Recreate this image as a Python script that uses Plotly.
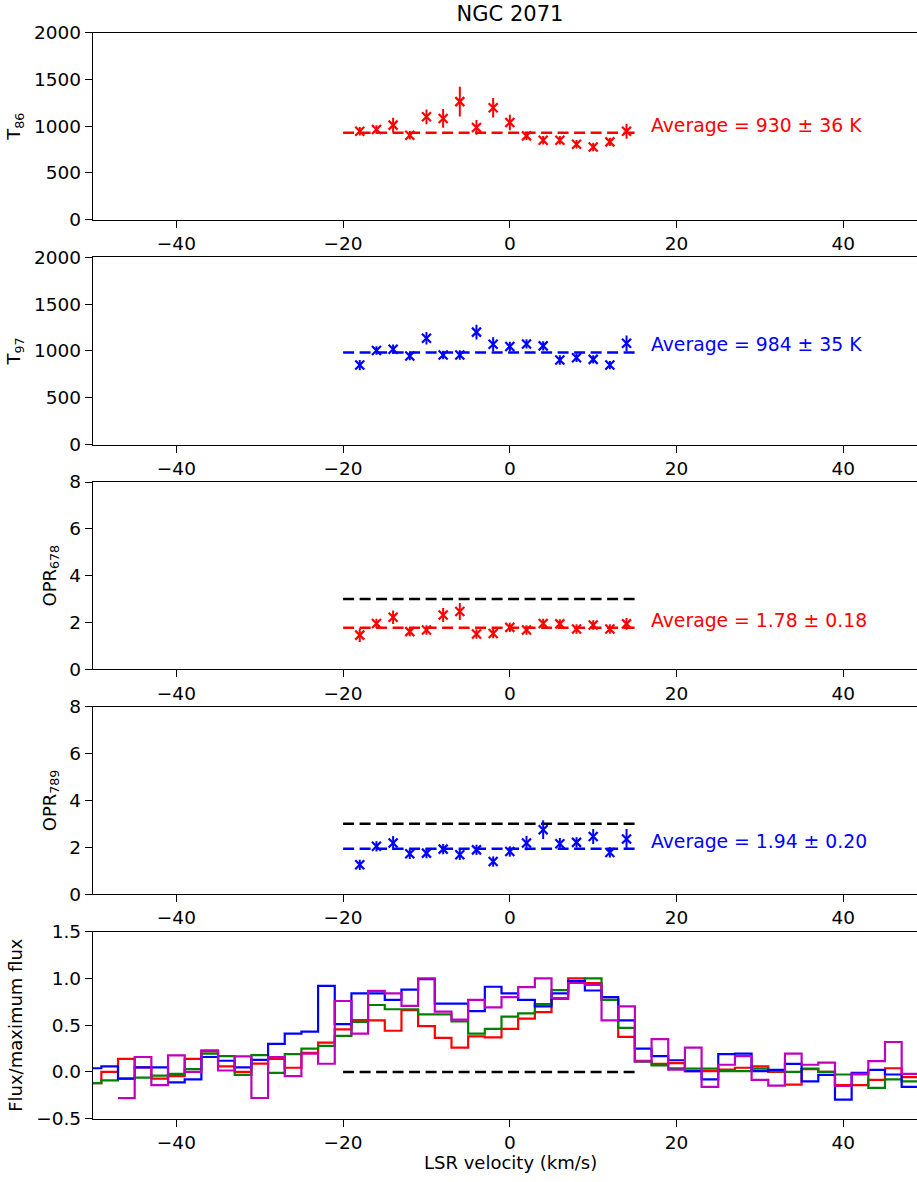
import plotly.graph_objects as go

# ---------------- data ----------------
vel_pts = [-18, -16, -14, -12, -10, -8, -6, -4, -2, 0, 2, 4, 6, 8, 10, 12, 14]

t86 = [946, 964, 1011, 903, 1100, 1082, 1262, 986, 1197, 1039, 896, 849, 849, 806, 778, 832, 946]
t86_err = [45, 45, 80, 45, 79, 100, 160, 79, 104, 84, 45, 45, 45, 45, 45, 45, 80]

t97 = [849, 1004, 1018, 946, 1136, 957, 957, 1201, 1072, 1047, 1075, 1054, 903, 928, 910, 849, 1082]
t97_err = [55, 45, 50, 45, 66, 45, 50, 80, 75, 50, 50, 50, 50, 45, 45, 45, 84]

opr678 = [1.46, 1.96, 2.22, 1.61, 1.68, 2.32, 2.47, 1.51, 1.53, 1.79, 1.68, 1.96, 1.94, 1.72, 1.89, 1.72, 1.94]
opr678_err = [0.29, 0.2, 0.29, 0.2, 0.2, 0.3, 0.36, 0.2, 0.2, 0.2, 0.2, 0.2, 0.2, 0.2, 0.2, 0.2, 0.25]

opr789 = [1.25, 2.04, 2.18, 1.72, 1.75, 1.92, 1.68, 1.89, 1.39, 1.82, 2.18, 2.75, 2.15, 2.21, 2.46, 1.78, 2.35]
opr789_err = [0.22, 0.22, 0.3, 0.22, 0.22, 0.22, 0.22, 0.22, 0.22, 0.22, 0.31, 0.4, 0.25, 0.22, 0.32, 0.22, 0.43]

avg_t86, avg_t86_txt = 930, "Average = 930 ± 36 K"
avg_t97, avg_t97_txt = 984, "Average = 984 ± 35 K"
avg_o678, avg_o678_txt = 1.78, "Average = 1.78 ± 0.18"
avg_o789, avg_o789_txt = 1.94, "Average = 1.94 ± 0.20"
avg_range = [-20, 15]
lte_opr = 3.0

chan = list(range(-50, 50, 2))  # channel centres, km/s
flux_red = [-0.12, 0.0, 0.14, 0.05, -0.07, -0.045, 0.14, 0.22, 0.06, 0.0,
            0.09, 0.14, 0.045, 0.205, 0.314, 0.454, 0.554, 0.55, 0.44, 0.66,
            0.49, 0.365, 0.26, 0.38, 0.37, 0.46, 0.57, 0.64, 0.78, 1.0,
            0.95, 0.77, 0.375, 0.12, 0.087, 0.095, 0.01, 0.01, 0.026, 0.045,
            0.059, 0.0, -0.135, 0.03, 0.0, -0.14, -0.14, -0.085, 0.04, -0.055]
flux_green = [-0.12, -0.09, -0.07, -0.06, -0.04, -0.02, 0.03, 0.195, 0.17, -0.03,
              0.18, -0.01, 0.19, 0.25, 0.278, 0.385, 0.536, 0.715, 0.67, 0.67,
              0.615, 0.615, 0.54, 0.41, 0.46, 0.59, 0.625, 0.725, 0.875, 0.96,
              1.0, 0.77, 0.47, 0.11, 0.07, 0.04, 0.035, 0.035, 0.01, 0.01,
              0.035, 0.01, 0.0, 0.035, 0.0, -0.027, -0.027, -0.17, -0.08, -0.1]
flux_blue = [0.04, 0.06, -0.07, 0.05, 0.05, -0.11, -0.08, 0.16, 0.12, 0.05,
             0.13, 0.30, 0.41, 0.43, 0.92, 0.51, 0.84, 0.84, 0.77, 0.88,
             0.99, 0.73, 0.73, 0.65, 0.91, 0.84, 0.77, 0.70, 0.84, 0.97,
             0.87, 0.80, 0.55, 0.25, 0.17, 0.125, 0.01, -0.08, 0.19, 0.195,
             0.01, 0.023, 0.087, -0.10, -0.03, -0.296, -0.01, 0.023, -0.027, -0.16]
chan_mag = list(range(-46, 50, 2))
flux_mag = [-0.28, 0.16, -0.14, 0.177, 0.0, 0.23, 0.016, 0.166, -0.278, 0.159,
            -0.045, 0.195, 0.088, 0.758, 0.41,
            0.865, 0.84, 0.705, 1.0, 0.644, 0.56, 0.77, 0.69, 0.80, 0.905,
            1.0, 0.79, 0.95, 0.93, 0.55, 0.70,
            0.113, 0.35, 0.026, 0.26, -0.16, 0.077, 0.17, -0.085, -0.145,
            0.195, 0.077, 0.1, -0.15, -0.02, 0.115, 0.32, -0.02]
chan_width = 2.0

# ---------------- style ----------------
RED = "#ff0000"
BLUE = "#0000ff"
GREEN = "#008000"
MAG = "#bf00bf"
FONT = "DejaVu Sans"
FS = 18
TFS = 18.5
AFS = 18.8
DASH = "11px,5.5px"

W, H = 917, 1182
MT, MB, ML = 32, 63, 93
plot_h = H - MT - MB
tops = [32.5, 257.3, 482.0, 706.8, 931.5]
panel_h = 187.3

fig = go.Figure()


def ax(i):
    return ("x" if i == 1 else f"x{i}"), ("y" if i == 1 else f"y{i}")


def add_points(i, y, err, color, avg, txt, lte=None):
    xa, ya = ax(i)
    if lte is not None:
        fig.add_trace(go.Scatter(x=avg_range, y=[lte, lte], mode="lines",
                                 line=dict(color="black", width=2.5, dash=DASH),
                                 xaxis=xa, yaxis=ya, showlegend=False))
    fig.add_trace(go.Scatter(x=avg_range, y=[avg, avg], mode="lines",
                             line=dict(color=color, width=2.5, dash=DASH),
                             xaxis=xa, yaxis=ya, showlegend=False))
    fig.add_trace(go.Scatter(x=vel_pts, y=y, mode="markers",
                             marker=dict(symbol="x-thin", size=9, color=color,
                                         line=dict(color=color, width=2.2)),
                             error_y=dict(type="data", array=err, color=color,
                                          thickness=2, width=0),
                             xaxis=xa, yaxis=ya, showlegend=False))
    fig.add_annotation(x=17, y=avg, xref=xa, yref=ya, text=txt,
                       showarrow=False, xanchor="left", yanchor="bottom",
                       xshift=-3, yshift=-5,
                       font=dict(family=FONT, size=AFS, color=color))


add_points(1, t86, t86_err, RED, avg_t86, avg_t86_txt)
add_points(2, t97, t97_err, BLUE, avg_t97, avg_t97_txt)
add_points(3, opr678, opr678_err, RED, avg_o678, avg_o678_txt, lte=lte_opr)
add_points(4, opr789, opr789_err, BLUE, avg_o789, avg_o789_txt, lte=lte_opr)


def stairs(centres, vals):
    xs = [c - chan_width / 2 for c in centres] + [centres[-1] + chan_width / 2]
    ys = list(vals) + [vals[-1]]
    return xs, ys


for centres, vals, col in [(chan, flux_red, RED), (chan, flux_green, GREEN),
                           (chan, flux_blue, BLUE), (chan_mag, flux_mag, MAG)]:
    xs, ys = stairs(centres, vals)
    fig.add_trace(go.Scatter(x=xs, y=ys, mode="lines", line_shape="hv",
                             line=dict(color=col, width=2.2),
                             xaxis="x5", yaxis="y5", showlegend=False))
fig.add_trace(go.Scatter(x=avg_range, y=[0, 0], mode="lines",
                         line=dict(color="black", width=2.5, dash=DASH),
                         xaxis="x5", yaxis="y5", showlegend=False))

ytitles = ["T<sub>86</sub>", "T<sub>97</sub>", "OPR<sub>678</sub>",
           "OPR<sub>789</sub>", "Flux/maximum flux"]
yranges = [[0, 2000], [0, 2000], [0, 8], [0, 8], [-0.5, 1.5]]
ydticks = [500, 500, 2, 2, 0.5]
yfmt = ["d", "d", "d", "d", ".1f"]

layout = dict(width=W, height=H,
              margin=dict(l=ML, r=0, t=MT, b=MB),
              plot_bgcolor="white", paper_bgcolor="white",
              font=dict(family=FONT, size=FS, color="black"),
              showlegend=False)

for i in range(1, 6):
    top = tops[i - 1]
    bottom = top + panel_h
    d0 = max(0.0, (H - MB - bottom) / plot_h)
    d1 = min(1.0, (H - MB - top) / plot_h)
    xk = "xaxis" if i == 1 else f"xaxis{i}"
    yk = "yaxis" if i == 1 else f"yaxis{i}"
    xa, ya = ax(i)
    xd = dict(domain=[0, 1], anchor=ya, range=[-50, 48.84],
              tickmode="linear", tick0=0, dtick=20,
              showline=True, linecolor="black", linewidth=1.3, mirror=True,
              ticks="outside", ticklen=7, tickwidth=1.3, tickcolor="black",
              showgrid=False, zeroline=False,
              tickfont=dict(family=FONT, size=TFS, color="black"))
    yd = dict(domain=[d0, d1], anchor=xa, range=yranges[i - 1],
              tickmode="linear", tick0=0, dtick=ydticks[i - 1],
              tickformat=yfmt[i - 1],
              showline=True, linecolor="black", linewidth=1.3, mirror=False,
              ticks="outside", ticklen=7, tickwidth=1.3, tickcolor="black",
              showgrid=False, zeroline=False,
              tickfont=dict(family=FONT, size=TFS, color="black"),
              title=dict(text=ytitles[i - 1], standoff=8,
                         font=dict(family=FONT, size=FS, color="black")))
    layout[xk] = xd
    layout[yk] = yd

layout["title"] = dict(text="NGC 2071", x=510 / W, xanchor="center",
                       xref="container", y=1 - 14 / H, yanchor="middle",
                       yref="container",
                       font=dict(family=FONT, size=21, color="black"))

fig.update_layout(**layout)
fig.add_annotation(text="LSR velocity (km/s)", xref="paper", yref="paper",
                   x=(510 - ML) / (W - ML), y=(H - MB - 1162) / plot_h,
                   xanchor="center", yanchor="middle", showarrow=False,
                   font=dict(family=FONT, size=FS, color="black"))
fig.write_html("out.html")
